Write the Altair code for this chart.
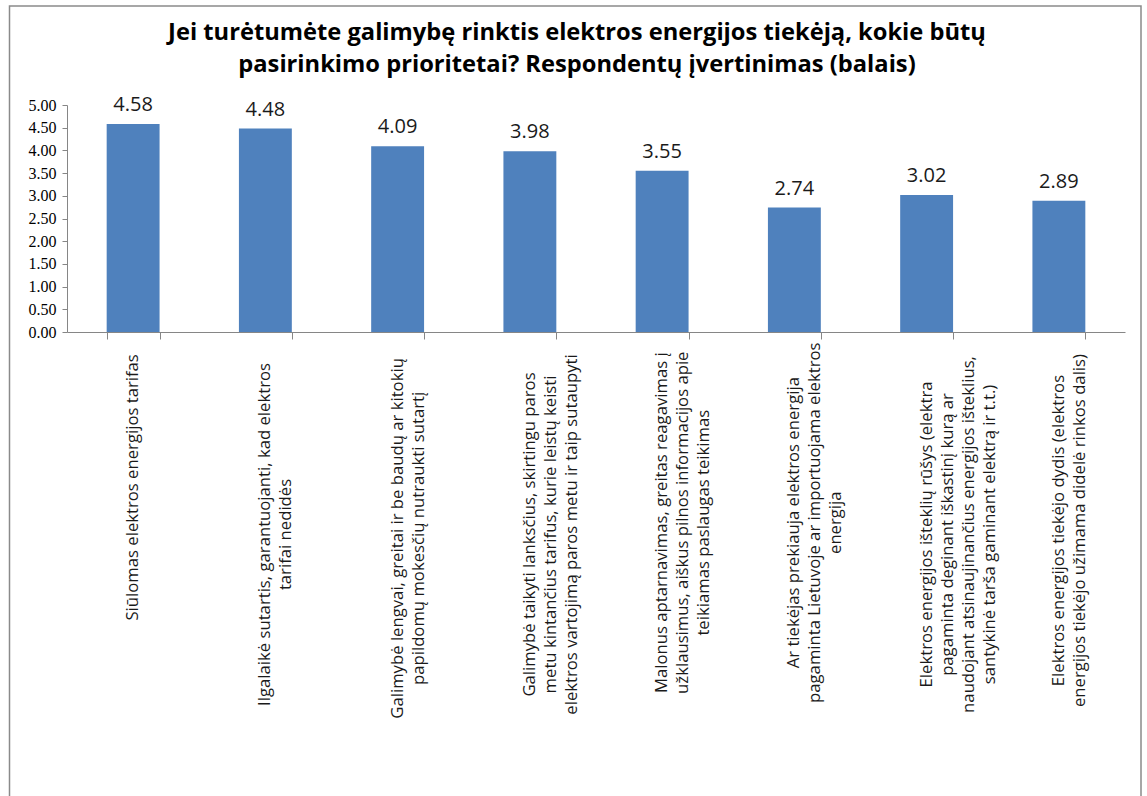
import altair as alt
import pandas as pd

categories = [
    "Siūlomas elektros energijos tarifas",
    "Ilgalaikė sutartis, garantuojanti, kad elektros|tarifai  nedidės",
    "Galimybė lengvai, greitai ir be baudų ar kitokių|papildomų mokesčių nutraukti sutartį",
    "Galimybė taikyti lanksčius, skirtingu paros|metu kintančius tarifus, kurie leistų keisti|elektros vartojimą paros metu ir taip sutaupyti",
    "Malonus aptarnavimas, greitas reagavimas į|užklausimus, aiškus pilnos informacijos apie|teikiamas paslaugas teikimas",
    "Ar tiekėjas prekiauja elektros energija|pagaminta Lietuvoje ar importuojama elektros|energija",
    "Elektros energijos išteklių rūšys (elektra|pagaminta deginant iškastinį kurą ar|naudojant atsinaujinančius energijos išteklius,|santykinė tarša gaminant elektrą ir t.t.)",
    "Elektros energijos tiekėjo dydis (elektros|energijos tiekėjo užimama didelė rinkos dalis)",
]
values = [4.58, 4.48, 4.09, 3.98, 3.55, 2.74, 3.02, 2.89]
title_lines = [
    "Jei turėtumėte galimybę rinktis elektros energijos tiekėją, kokie būtų",
    "pasirinkimo prioritetai?  Respondentų įvertinimas (balais)",
]
y_ticks = [0, 0.5, 1, 1.5, 2, 2.5, 3, 3.5, 4, 4.5, 5]

W, H = 1058, 227
CHAR_W = 7.85
GAP = 18

df = pd.DataFrame({"cat": categories, "value": values})
df["maxlen"] = [max(len(s) for s in c.split("|")) for c in categories]
df["ypix"] = H + GAP + df["maxlen"] * CHAR_W / 2

FONT = "Open Sans"
AX = "#868686"

xenc = alt.X(
    "cat:N",
    sort=categories,
    scale=alt.Scale(paddingInner=0.6, paddingOuter=0.3),
    axis=alt.Axis(
        title=None, labels=False, domainColor=AX, tickColor=AX,
        tickSize=7, tickBand="extent", ticks=True,
    ),
)

yaxis = alt.Axis(
    title=None, values=y_ticks, format=".2f", grid=False,
    domainColor=AX, tickColor=AX, tickSize=5,
    labelFont="Liberation Serif", labelFontSize=16, labelColor="#000000",
    labelPadding=6, labelOverlap=False,
)
yenc = alt.Y("value:Q", scale=alt.Scale(domain=[0, 5]), axis=yaxis)

base = alt.Chart(df)

bars = base.mark_bar(color="#4F81BD").encode(x=xenc, y=yenc)

vals = base.mark_text(
    baseline="alphabetic", dy=-13, fontSize=20, font=FONT, color="#1a1a1a"
).encode(
    x=alt.X("cat:N", sort=categories),
    y=yenc,
    text=alt.Text("value:Q", format=".2f"),
)

main = alt.layer(bars, vals)

labels = base.transform_calculate(
    lines="split(datum.cat, '|')"
).mark_text(
    angle=270, align="center", baseline="middle", fontSize=16.7,
    font=FONT, color="#1a1a1a", lineHeight=21,
).encode(
    x=alt.X("cat:N", sort=categories),
    y=alt.Y("ypix:Q", scale=None, axis=None),
    text=alt.Text("lines:N"),
)

one = pd.DataFrame({"k": [0]})

frame = alt.Chart(one).mark_rect(
    fill=None, stroke="#8a8a8a", strokeWidth=1.5
).encode(
    x=alt.value(-57.5), x2=alt.value(1074), y=alt.value(-99), y2=alt.value(720)
)

title = alt.Chart(one).mark_text(
    text=title_lines, font=FONT, fontSize=23.7, fontWeight="bold",
    color="#000000", align="center", baseline="alphabetic", lineHeight=32,
).encode(x=alt.value(510), y=alt.value(-65))

chart = alt.layer(frame, title, main, labels).resolve_scale(y="independent").properties(
    width=W, height=H,
    padding={"left": 67, "top": 105, "right": 22, "bottom": 464},
    autosize=alt.AutoSizeParams(type="none"),
    background="white",
).configure_view(stroke=None)

chart.save("out.html", embed_options={"renderer": "svg", "actions": False})
